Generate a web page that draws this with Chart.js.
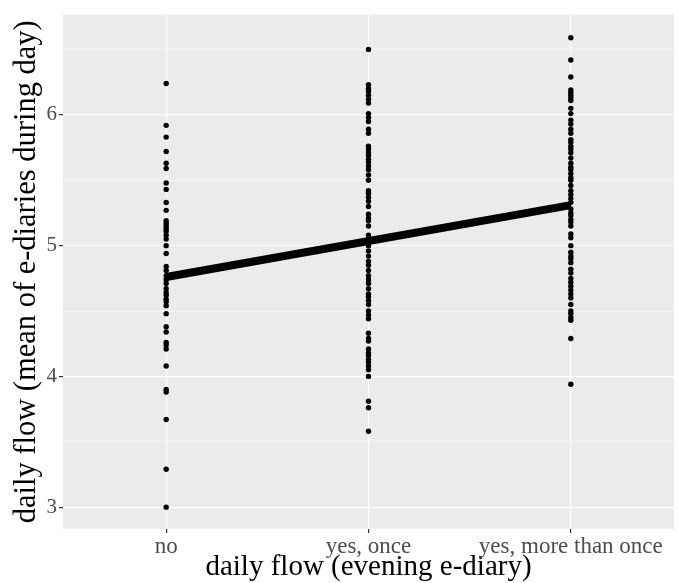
<!DOCTYPE html>
<html lang="en">
<head>
  <meta charset="UTF-8">
  <title>daily flow</title>
  <style>
    body { margin: 0; background: #fff; }
  </style>
</head>
<body>
  <script src="https://cdn.jsdelivr.net/npm/chart.js"></script>
  <canvas id="myChart" width="678" height="583"></canvas>

<script>
  const categories = ['no', 'yes, once', 'yes, more than once'];

  // mean of e-diaries during day, one array per evening answer
  const noFlow = [6.24, 5.92, 5.83, 5.72, 5.63, 5.59, 5.48, 5.43, 5.33, 5.27, 5.19, 5.17, 5.15, 5.13,
    5.11, 5.08, 5.05, 5.00, 4.94, 4.84, 4.81, 4.77, 4.74, 4.71, 4.67, 4.64, 4.62, 4.59, 4.57, 4.54,
    4.48, 4.38, 4.34, 4.26, 4.24, 4.21, 4.08, 3.90, 3.88, 3.67, 3.29, 3.00];
  const onceFlow = [6.50, 6.23, 6.20, 6.18, 6.15, 6.12, 6.09, 6.01, 5.98, 5.95, 5.89, 5.86, 5.76, 5.74,
    5.71, 5.69, 5.66, 5.64, 5.61, 5.58, 5.54, 5.50, 5.42, 5.40, 5.37, 5.34, 5.30, 5.24, 5.21, 5.19,
    5.15, 5.08, 5.05, 5.03, 5.00, 4.96, 4.92, 4.88, 4.85, 4.81, 4.77, 4.74, 4.71, 4.67, 4.63, 4.61,
    4.58, 4.55, 4.50, 4.47, 4.44, 4.33, 4.29, 4.27, 4.21, 4.18, 4.16, 4.13, 4.11, 4.08, 4.05, 4.00,
    3.81, 3.76, 3.58];
  const manyFlow = [6.59, 6.42, 6.29, 6.19, 6.17, 6.15, 6.13, 6.11, 6.05, 6.01, 5.96, 5.93, 5.89, 5.86,
    5.81, 5.79, 5.76, 5.74, 5.71, 5.67, 5.63, 5.60, 5.58, 5.55, 5.52, 5.50, 5.46, 5.42, 5.39, 5.36,
    5.33, 5.28, 5.25, 5.23, 5.20, 5.18, 5.15, 5.09, 5.06, 5.00, 4.95, 4.92, 4.90, 4.87, 4.82, 4.79,
    4.75, 4.72, 4.69, 4.66, 4.63, 4.60, 4.55, 4.50, 4.48, 4.45, 4.43, 4.29, 3.94];

  // fitted line, value at first and last category
  const fitLine = [4.76, 5.31];

  const yTicks = [3, 3.5, 4, 4.5, 5, 5.5, 6, 6.5];

  const groups = [noFlow, onceFlow, manyFlow];
  const points = [];
  groups.forEach((vals, i) => vals.forEach(v => points.push({ x: i, y: v })));

  const panelBg = {
    id: 'panelBg',
    beforeDraw(chart) {
      const a = chart.chartArea;
      const ctx = chart.ctx;
      ctx.save();
      ctx.fillStyle = '#EBEBEB';
      ctx.fillRect(a.left, a.top, a.right - a.left, a.bottom - a.top);
      ctx.restore();
    }
  };

  const isMajor = v => Number.isInteger(v);

  const config = {
    type: 'scatter',
    data: {
      datasets: [{
        type: 'line',
        data: [{ x: 0, y: fitLine[0] }, { x: 2, y: fitLine[1] }],
        borderColor: '#000',
        borderWidth: 8,
        borderCapStyle: 'butt',
        pointRadius: 0,
        order: 0
      }, {
        data: points,
        backgroundColor: '#000',
        borderWidth: 0,
        pointRadius: 2.7,
        order: 1
      }]
    },
    options: {
      responsive: false,
      animation: false,
      layout: { padding: { top: 11, right: 4 } },
      plugins: { legend: { display: false }, tooltip: { enabled: false } },
      scales: {
        x: {
          type: 'linear',
          min: -0.51,
          max: 2.51,
          afterFit: s => { s.height = 54; },
          afterBuildTicks: s => { s.ticks = [0, 1, 2].map(v => ({ value: v })); },
          border: { display: false },
          grid: { color: '#fff', lineWidth: 1.2, tickColor: '#333', tickLength: 4 },
          ticks: {
            padding: 0,
            color: '#4D4D4D',
            font: { family: 'Liberation Serif', size: 23 },
            callback: v => categories[v]
          },
          title: {
            display: true,
            text: 'daily flow (evening e-diary)',
            color: '#000',
            font: { family: 'Liberation Serif', size: 29 },
            padding: { top: 0, bottom: -2 }
          }
        },
        y: {
          min: 2.833,
          max: 6.767,
          afterFit: s => { s.width = 63; },
          afterBuildTicks: s => { s.ticks = yTicks.map(v => ({ value: v })); },
          border: { display: false },
          grid: {
            color: '#fff',
            lineWidth: c => isMajor(c.tick.value) ? 1.2 : 0.6,
            tickColor: c => isMajor(c.tick.value) ? '#333' : 'rgba(0,0,0,0)',
            tickLength: 4
          },
          ticks: {
            padding: 2,
            color: '#4D4D4D',
            font: { family: 'Liberation Serif', size: 21 },
            callback: v => isMajor(v) ? String(v) : ''
          },
          title: {
            display: true,
            text: 'daily flow (mean of e-diaries during day)',
            color: '#000',
            font: { family: 'Liberation Serif', size: 30.5 },
            padding: { top: 9, bottom: 0 }
          }
        }
      }
    },
    plugins: [panelBg]
  };

  var myChart = new Chart(document.getElementById('myChart'), config);
</script>
</body>
</html>
